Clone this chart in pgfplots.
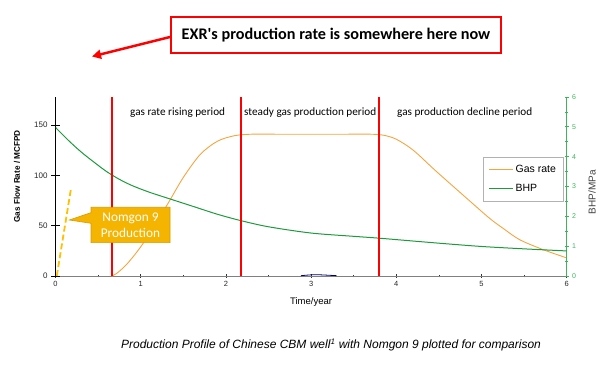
\documentclass[border=0pt]{standalone}
\usepackage{pgfplots}
\pgfplotsset{compat=1.18}
\usepackage{fontspec}
\setmainfont{Liberation Sans}
\newfontfamily\calib{Carlito}
\usetikzlibrary{arrows.meta}
\definecolor{gasor}{HTML}{F5A540}
\definecolor{bhpgr}{HTML}{1E9A3C}
\definecolor{axgr}{HTML}{3CB55A}
\definecolor{nomg}{HTML}{FFC000}
\definecolor{callf}{HTML}{F4B400}
\definecolor{callb}{HTML}{D99A00}
\pgfplotsset{base/.style={at={(55.5pt,88pt)}, anchor=south west,
  scale only axis, width=511.2pt, height=179pt, xmin=0, xmax=6,
  /pgf/number format/assume math mode=true, tick align=outside}}
\begin{document}
\begin{tikzpicture}
\useasboundingbox (0pt,0pt) rectangle (604pt,364pt);
% x axis
\begin{axis}[base, ymin=0, ymax=178,
  axis x line=bottom, axis y line=none,
  x axis line style={draw=gray, line width=1pt, -},
  xtick={0,1,2,3,4,5,6}, minor x tick num=1,
  major tick length=3.5pt, minor tick length=2.5pt,
  tick style={black!80, line width=0.6pt},
  xticklabel style={font=\fontsize{7.5}{9}\selectfont, text=black!85},
  xlabel={Time/year},
  xlabel style={at={(axis description cs:0.5,-0.145)}, anchor=center, font=\fontsize{9.5}{11}\selectfont},
]
\addplot[draw=none, forget plot] coordinates {(0,0)};
\end{axis}
% left axis with gas data
\begin{axis}[base, ymin=0, ymax=178,
  axis x line=none, axis y line=left,
  y axis line style={draw=black, line width=1.3pt, -},
  ytick={0,50,100,150},
  major tick length=9pt,
  tick style={black, line width=0.7pt},
  yticklabel style={font=\fontsize{8}{9}\selectfont, text=black!85},
  ylabel={\bfseries Gas Flow Rate / MCFPD},
  ylabel style={at={(axis description cs:-0.0753,0.556)}, anchor=center, font=\fontsize{8.2}{10}\selectfont},
]
\addplot[gasor, line width=0.9pt, smooth] coordinates {
 (0.66,0) (0.72,2.7) (0.84,12) (1.0,29) (1.17,51) (1.34,75) (1.5,98) (1.7,121)
 (1.9,134) (2.1,139.5) (2.3,141) (2.6,141) (3.0,141) (3.4,141) (3.7,141) (3.85,140) (4.0,136)
 (4.2,125) (4.47,104) (4.87,74) (5.1,57) (5.26,47) (5.45,36) (5.73,26) (6.0,18)};
\addplot[nomg, line width=1.8pt, dash pattern=on 6pt off 3pt] coordinates {(0.015,0) (0.18,86)};
\addplot[blue!40!black, line width=0.8pt, smooth] coordinates {(2.88,0.3) (3.05,1.3) (3.3,0.3)};
\end{axis}
% right axis with BHP
\begin{axis}[base, ymin=0, ymax=6,
  axis x line=none, axis y line=right,
  y axis line style={draw=axgr, line width=1.2pt, -},
  ytick={0,1,2,3,4,5,6}, minor y tick num=1,
  major tick length=4pt, minor tick length=2.5pt,
  tick style={axgr, line width=0.8pt},
  yticklabel style={font=\fontsize{7}{8}\selectfont, text=axgr},
  ylabel={BHP/MPa},
  ylabel style={at={(axis description cs:1.0495,0.469)}, anchor=center, font=\fontsize{10}{12}\selectfont, text=black!75},
  legend style={at={(0.836,0.665)}, anchor=north west, draw=gray!60, line width=0.5pt,
    font=\fontsize{10.5}{12}\selectfont, row sep=6pt, inner xsep=5.5pt, inner ysep=6pt},
  legend cell align=left,
  legend image code/.code={\draw[#1] (0pt,0pt) -- (24pt,0pt);},
]
\addlegendimage{gasor, line width=0.9pt}
\addlegendentry{Gas rate}
\addlegendimage{bhpgr, line width=1pt}
\addlegendentry{BHP}
\addplot[bhpgr, line width=1pt, smooth, forget plot] coordinates {
 (0,4.98) (0.15,4.55) (0.3,4.16) (0.45,3.82) (0.6,3.50) (0.75,3.24) (0.9,3.03) (1.1,2.81)
 (1.38,2.55) (1.64,2.31) (1.9,2.07) (2.17,1.86) (2.5,1.65) (3.0,1.44) (3.5,1.33) (3.79,1.27)
 (4.04,1.21) (4.5,1.1) (5.0,0.99) (5.5,0.91) (6.0,0.84)};
\addplot[red, line width=2.2pt, forget plot] coordinates {(0.66,0) (0.66,6)};
\addplot[red, line width=2.2pt, forget plot] coordinates {(2.18,0) (2.18,6)};
\addplot[red, line width=2.2pt, forget plot] coordinates {(3.80,0) (3.80,6)};
\end{axis}
% period labels
\node[anchor=west, font=\calib\fontsize{11.2}{13}\selectfont, inner sep=0pt] at (130pt,251pt) {gas rate rising period};
\node[anchor=west, font=\calib\fontsize{11.2}{13}\selectfont, inner sep=0pt] at (244pt,251pt) {steady gas production period};
\node[anchor=west, font=\calib\fontsize{11.2}{13}\selectfont, inner sep=0pt] at (397pt,251pt) {gas production decline period};
% callout
\draw[callb, fill=callf, line width=0.6pt] (91pt,156.7pt) -- (170pt,156.7pt) -- (170pt,121.3pt) -- (91pt,121.3pt) -- (91pt,140.7pt) -- (69.3pt,144pt) -- (91pt,151.3pt) -- cycle;
\node[align=center, text=white, font=\calib\fontsize{13.3}{15.5}\selectfont] at (130.5pt,139pt) {Nomgon 9\\Production};
% top annotation
\draw[red, line width=2.8pt] (171pt,347pt) rectangle (501pt,311pt);
\node[font=\calib\bfseries\fontsize{16.2}{18}\selectfont] at (336pt,329pt) {EXR's production rate is somewhere here now};
\draw[red, line width=2.5pt, -{Triangle[length=9pt,width=9pt]}] (170pt,327pt) -- (92pt,307.5pt);
% caption
\node[font=\itshape\fontsize{12}{14}\selectfont] at (331pt,19pt) {Production Profile of Chinese CBM well\textsuperscript{1} with Nomgon 9 plotted for comparison};
\end{tikzpicture}
\end{document}
